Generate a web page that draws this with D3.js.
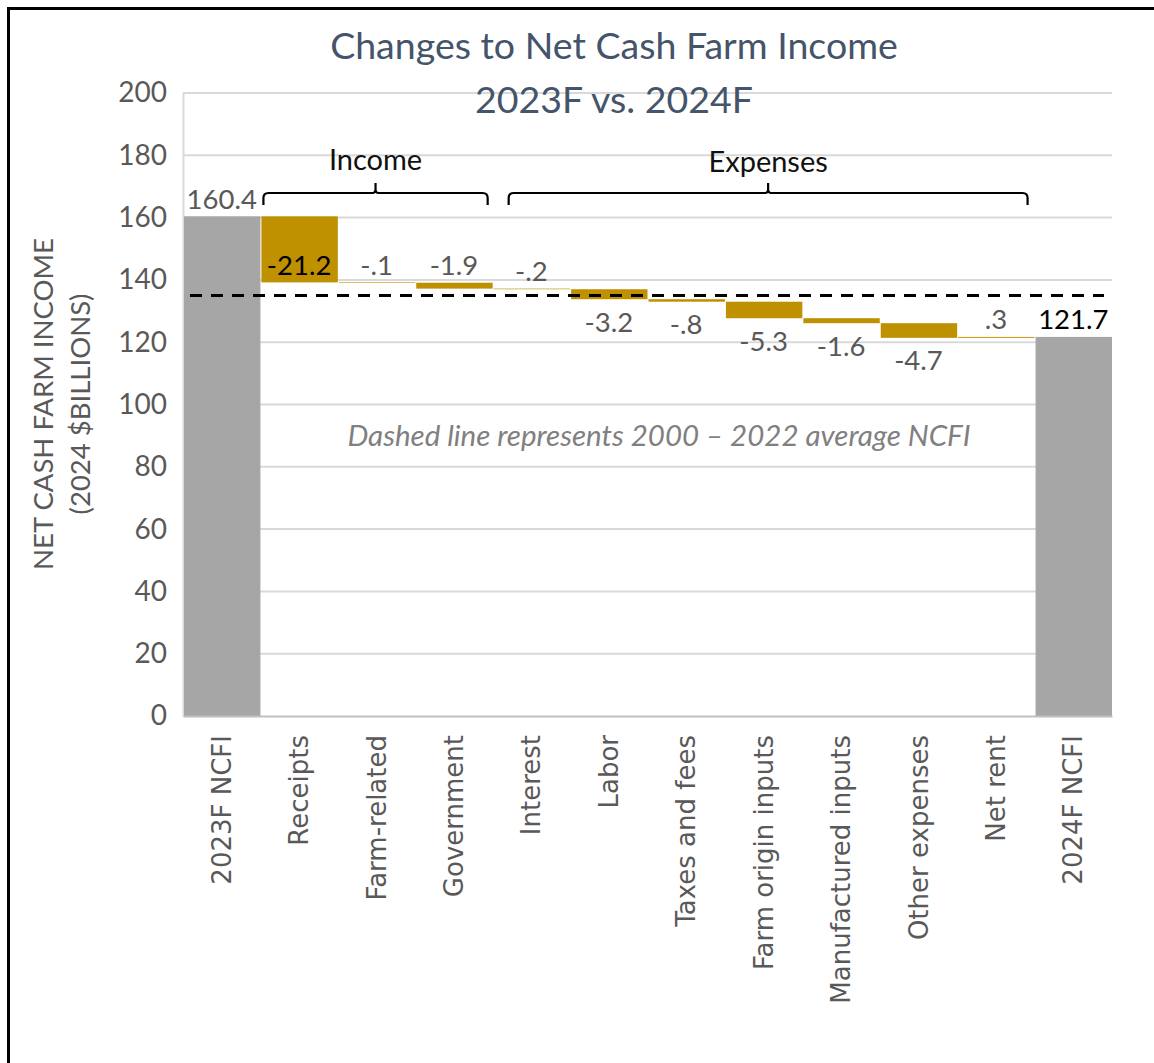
<!DOCTYPE html>
<html>
<head>
<meta charset="utf-8">
<script src="https://cdn.jsdelivr.net/npm/d3@7"></script>
<style>
  html, body { margin: 0; padding: 0; background: #fff; }
  svg { display: block; }
</style>
</head>
<body>
<svg id="chart" width="1154" height="1063"></svg>
<script>
// ---- data ----
const categories = ["2023F NCFI", "Receipts", "Farm-related", "Government", "Interest", "Labor",
  "Taxes and fees", "Farm origin inputs", "Manufactured inputs", "Other expenses", "Net rent", "2024F NCFI"];
const values = [160.4, -21.2, -0.1, -1.9, -0.2, -3.2, -0.8, -5.3, -1.6, -4.7, 0.3, 121.7];
const valueLabels = ["160.4", "-21.2", "-.1", "-1.9", "-.2", "-3.2", "-.8", "-5.3", "-1.6", "-4.7", ".3", "121.7"];
const isTotal = [true, false, false, false, false, false, false, false, false, false, false, true];
const labelPlacement = ["above", "end", "above", "above", "above", "below", "below", "below", "below", "below", "above", "above"];
const yTicks = [0, 20, 40, 60, 80, 100, 120, 140, 160, 180, 200];
const averageNCFI = 135;
const groups = [
  { name: "Income", from: "Receipts", to: "Government" },
  { name: "Expenses", from: "Interest", to: "Net rent" }
];

// ---- layout ----
const svg = d3.select("#chart");
const plot = { left: 183, right: 1112, top: 93, bottom: 716 };
const x = d3.scaleBand().domain(categories).range([plot.left, plot.right]).padding(0);
const y = d3.scaleLinear().domain([0, 200]).range([plot.bottom, plot.top]);
const font = "Lato, 'Open Sans', sans-serif";

// frame (top and left edges only visible)
svg.append("line").attr("x1", 7).attr("x2", 1154).attr("y1", 8.5).attr("y2", 8.5)
  .attr("stroke", "#000").attr("stroke-width", 3);
svg.append("line").attr("x1", 8.5).attr("x2", 8.5).attr("y1", 7).attr("y2", 1063)
  .attr("stroke", "#000").attr("stroke-width", 3);

// waterfall computation
let run = 0;
const bars = values.map((v, i) => {
  let start, end;
  if (isTotal[i]) { start = 0; end = v; run = v; }
  else { start = run; end = run + v; run = end; }
  return { cat: categories[i], v, start, end, total: isTotal[i], label: valueLabels[i], place: labelPlacement[i] };
});

// gridlines
svg.append("g").selectAll("line").data(yTicks.filter(t => t > 0)).join("line")
  .attr("x1", plot.left).attr("x2", plot.right)
  .attr("y1", d => y(d)).attr("y2", d => y(d))
  .attr("stroke", "#D9D9D9").attr("stroke-width", 2);

// y axis
const yAxis = svg.append("g").attr("transform", `translate(${plot.left},0)`)
  .call(d3.axisLeft(y).tickValues(yTicks).tickSize(0).tickPadding(16));
yAxis.select(".domain").attr("stroke", "#D9D9D9").attr("stroke-width", 2);
yAxis.selectAll("text").attr("font-family", font).attr("font-size", 28).attr("fill", "#595959");

// bars
svg.append("g").selectAll("rect").data(bars).join("rect")
  .attr("x", d => x(d.cat) + 1)
  .attr("width", x.bandwidth() - 1)
  .attr("y", d => y(Math.max(d.start, d.end)))
  .attr("height", d => Math.max(0.6, Math.abs(y(d.start) - y(d.end))))
  .attr("fill", d => d.total ? "#A6A6A6" : "#BF9000");

// x axis
const xAxis = svg.append("g").attr("transform", `translate(0,${plot.bottom})`)
  .call(d3.axisBottom(x).tickSize(0).tickPadding(0));
xAxis.select(".domain").attr("stroke", "#BFBFBF").attr("stroke-width", 2);
xAxis.selectAll("text")
  .attr("font-family", "'DejaVu Sans', sans-serif").attr("font-size", 26).attr("fill", "#595959")
  .attr("transform", "rotate(-90)")
  .attr("text-anchor", "end")
  .attr("dy", "0.35em")
  .attr("x", -19).attr("y", 0);

// dashed average line
svg.append("line")
  .attr("x1", plot.left + 7).attr("x2", plot.right - 8)
  .attr("y1", y(averageNCFI)).attr("y2", y(averageNCFI))
  .attr("stroke", "#000").attr("stroke-width", 3).attr("stroke-dasharray", "12,9");

// value labels
svg.append("g").selectAll("text").data(bars).join("text")
  .attr("x", d => x(d.cat) + x.bandwidth() / 2)
  .attr("y", d => {
    const top = y(Math.max(d.start, d.end)), bot = y(Math.min(d.start, d.end));
    if (d.place === "above") return top - 18;
    if (d.place === "below") return bot + 22;
    return bot - 18;
  })
  .attr("dominant-baseline", "central")
  .attr("text-anchor", "middle")
  .attr("font-family", font).attr("font-size", 27.5)
  .attr("fill", d => (d.place === "end" || d.cat === "2024F NCFI") ? "#000" : "#595959")
  .text(d => d.label);

// brackets
const bracketY = 193;
groups.forEach((g, gi) => {
  const x0 = gi === 0 ? x(g.from) + 3 : x(g.from) + 16;
  const x1 = gi === 0 ? x(g.to) + x.bandwidth() - 5 : x(g.to) + x.bandwidth() - 7;
  const xm = (x0 + x1) / 2;
  const r = 5;
  const p = d3.path();
  p.moveTo(x0, bracketY + 12);
  p.lineTo(x0, bracketY + r);
  p.quadraticCurveTo(x0, bracketY, x0 + r, bracketY);
  p.lineTo(xm - 3, bracketY);
  p.quadraticCurveTo(xm, bracketY, xm, bracketY - 4);
  p.lineTo(xm, bracketY - 10);
  p.moveTo(xm, bracketY - 4);
  p.quadraticCurveTo(xm, bracketY, xm + 3, bracketY);
  p.lineTo(x1 - r, bracketY);
  p.quadraticCurveTo(x1, bracketY, x1, bracketY + r);
  p.lineTo(x1, bracketY + 12);
  svg.append("path").attr("d", p.toString()).attr("fill", "none")
    .attr("stroke", "#000").attr("stroke-width", 2.2);
  svg.append("text").attr("x", xm).attr("y", gi === 0 ? 158 : 160)
    .attr("dominant-baseline", "central").attr("text-anchor", "middle")
    .attr("font-family", font).attr("font-size", 29).attr("fill", "#111")
    .text(g.name);
});

// note
svg.append("text").attr("x", 659).attr("y", 434)
  .attr("dominant-baseline", "central").attr("text-anchor", "middle")
  .attr("font-family", font).attr("font-style", "italic").attr("font-size", 29.5)
  .attr("fill", "#808080")
  .text("Dashed line represents 2000 \u2013 2022 average NCFI");

// title
const title = svg.append("text").attr("text-anchor", "middle")
  .attr("font-family", font).attr("font-weight", 400).attr("font-size", 37.5).attr("fill", "#44546A");
title.append("tspan").attr("x", 614).attr("y", 59).text("Changes to Net Cash Farm Income");
title.append("tspan").attr("x", 614).attr("y", 113).text("2023F vs. 2024F");

// y axis title
const yt = svg.append("text").attr("transform", "translate(0,404) rotate(-90)")
  .attr("text-anchor", "middle").attr("font-family", font).attr("font-size", 27.5).attr("fill", "#595959");
yt.append("tspan").attr("x", 0).attr("y", 53).text("NET CASH FARM INCOME");
yt.append("tspan").attr("x", 0).attr("y", 90).text("(2024 $BILLIONS)");
</script>
</body>
</html>
